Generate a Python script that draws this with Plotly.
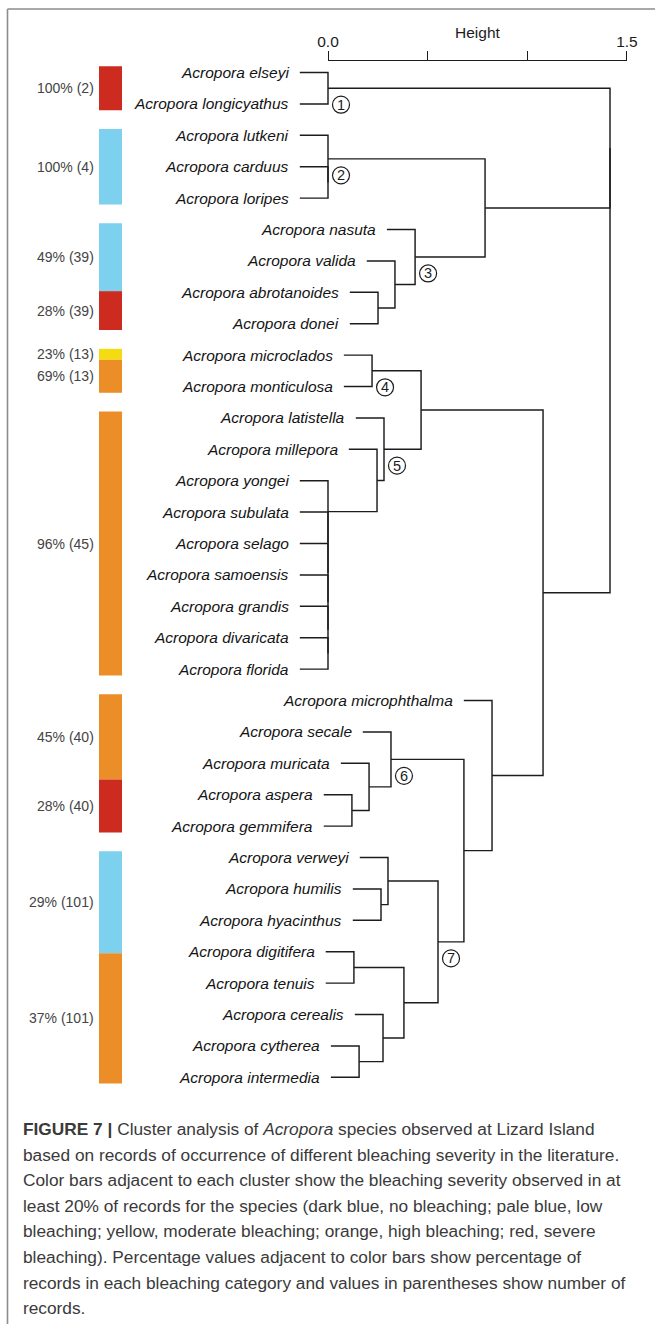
import plotly.graph_objects as go

# ---------------------------------------------------------------- data
leaves = [
    "Acropora elseyi", "Acropora longicyathus",
    "Acropora lutkeni", "Acropora carduus", "Acropora loripes",
    "Acropora nasuta", "Acropora valida", "Acropora abrotanoides", "Acropora donei",
    "Acropora microclados", "Acropora monticulosa",
    "Acropora latistella", "Acropora millepora", "Acropora yongei", "Acropora subulata",
    "Acropora selago", "Acropora samoensis", "Acropora grandis", "Acropora divaricata",
    "Acropora florida",
    "Acropora microphthalma", "Acropora secale", "Acropora muricata", "Acropora aspera",
    "Acropora gemmifera",
    "Acropora verweyi", "Acropora humilis", "Acropora hyacinthus",
    "Acropora digitifera", "Acropora tenuis", "Acropora cerealis", "Acropora cytherea",
    "Acropora intermedia",
]

# agglomeration steps (hclust style): "mK" refers to the K-th merge
merge_a = [
    "Acropora elseyi", "Acropora carduus", "Acropora lutkeni", "Acropora abrotanoides",
    "Acropora valida", "Acropora nasuta", "m2", "Acropora microclados",
    "Acropora divaricata", "Acropora grandis", "Acropora samoensis", "Acropora selago",
    "Acropora subulata", "Acropora yongei", "Acropora millepora", "Acropora latistella",
    "m7", "Acropora aspera", "Acropora muricata", "Acropora secale",
    "Acropora humilis", "Acropora verweyi", "Acropora digitifera", "Acropora cytherea",
    "Acropora cerealis", "m22", "m21", "m19",
    "Acropora microphthalma", "m16", "m0", "m30",
]
merge_b = [
    "Acropora longicyathus", "Acropora loripes", "m1", "Acropora donei",
    "m3", "m4", "m5", "Acropora monticulosa",
    "Acropora florida", "m8", "m9", "m10",
    "m11", "m12", "m13", "m14",
    "m15", "Acropora gemmifera", "m17", "m18",
    "Acropora hyacinthus", "m20", "Acropora tenuis", "Acropora intermedia",
    "m23", "m24", "m25", "m26",
    "m27", "m28", "m6", "m29",
]
merge_height = [
    0.0, 0.0, 0.0, 0.251,
    0.336, 0.437, 0.788, 0.221,
    0.0, 0.0, 0.0, 0.0,
    0.0, 0.0, 0.246, 0.281,
    0.467, 0.120, 0.206, 0.316,
    0.266, 0.301, 0.130, 0.156,
    0.276, 0.381, 0.552, 0.682,
    0.823, 1.079, 1.415, 1.415,
]

# numbered clusters and the merge each one marks
cluster_numbers = ["1", "2", "3", "4", "5", "6", "7"]
cluster_merges = ["m0", "m2", "m5", "m7", "m15", "m19", "m26"]

# bleaching colour bars: one block of leaves per bar
bar_first = ["Acropora elseyi", "Acropora lutkeni", "Acropora nasuta", "Acropora microclados",
             "Acropora latistella", "Acropora microphthalma", "Acropora verweyi"]
bar_last = ["Acropora longicyathus", "Acropora loripes", "Acropora donei", "Acropora monticulosa",
            "Acropora florida", "Acropora gemmifera", "Acropora intermedia"]
bar_records = [2, 4, 39, 13, 45, 40, 101]
bar_categories = [["severe"], ["low"], ["low", "severe"], ["moderate", "high"],
                  ["high"], ["high", "severe"], ["low", "high"]]
bar_percent = [[100], [100], [49, 28], [23, 69], [96], [45, 28], [29, 37]]

axis_ticks = [0.0, 0.5, 1.0, 1.5]
axis_tick_labels = ["0.0", "", "", "1.5"]
axis_title = "Height"

caption_lines = [
    "<b>FIGURE 7 |</b> Cluster analysis of <i>Acropora</i> species observed at Lizard Island",
    "based on records of occurrence of different bleaching severity in the literature.",
    "Color bars adjacent to each cluster show the bleaching severity observed in at",
    "least 20% of records for the species (dark blue, no bleaching; pale blue, low",
    "bleaching; yellow, moderate bleaching; orange, high bleaching; red, severe",
    "bleaching). Percentage values adjacent to color bars show percentage of",
    "records in each bleaching category and values in parentheses show number of",
    "records.",
]

# ---------------------------------------------------------------- styling / layout
W, H = 655, 1324
X0_PX = 328.0          # pixel column of height 0
X_PX_PER_UNIT = 199.3  # pixels per unit of height
ROW0_PX = 72.5         # pixel row of the first leaf
ROW_PX = 31.4          # pixels between leaves
AXIS_PX = 61           # pixel row of the height axis line

severity_colors = {
    "none": "#1F4E9C",
    "low": "#7DD0EE",
    "moderate": "#F5DC12",
    "high": "#EC8E27",
    "severe": "#CD2A20",
}
LINE_COLOR = "#1c1c1c"
FONT = "Liberation Sans, Arial, sans-serif"


def px_x(dx):
    return dx / X_PX_PER_UNIT


def px_y(dy):
    return dy / ROW_PX


# ---------------------------------------------------------------- dendrogram geometry
row = {name: i for i, name in enumerate(leaves)}
node_y = dict(row)
node_h = {}
leaf_start = {}
hang = 0.1 * max(merge_height)

line_x, line_y = [], []
for k, (a, b, h) in enumerate(zip(merge_a, merge_b, merge_height)):
    starts = []
    for c in (a, b):
        if c in node_h:
            starts.append(node_h[c])
        else:
            leaf_start[c] = h - hang
            starts.append(h - hang)
    line_x += [starts[0], h, h, starts[1], None]
    line_y += [node_y[a], node_y[a], node_y[b], node_y[b], None]
    node_y[f"m{k}"] = (node_y[a] + node_y[b]) / 2
    node_h[f"m{k}"] = h

fig = go.Figure()

# colour bars (vertical spans along the leaf rows)
bar_x_left, bar_x_right = px_x(99 - X0_PX), px_x(122 - X0_PX)
bar_pad = 0.2
annotations = []
for first, last, n, cats, pcts in zip(bar_first, bar_last, bar_records,
                                     bar_categories, bar_percent):
    top = row[first] - bar_pad
    span = row[last] + bar_pad - top
    total = sum(pcts)
    base = top
    for cat, p in zip(cats, pcts):
        length = span * p / total
        fig.add_trace(go.Bar(
            x=[(bar_x_left + bar_x_right) / 2], y=[length], base=[base],
            width=bar_x_right - bar_x_left,
            marker=dict(color=severity_colors[cat], line=dict(width=0)),
            hoverinfo="skip", showlegend=False,
        ))
        annotations.append(dict(
            x=bar_x_left, y=base + length / 2, xref="x", yref="y",
            text=f"{p}% ({n})", showarrow=False, xanchor="right", yanchor="middle",
            xshift=-3, font=dict(family=FONT, size=14, color="#444444"),
        ))
        base += length

# tree branches
fig.add_trace(go.Scatter(
    x=line_x, y=line_y, mode="lines",
    line=dict(color=LINE_COLOR, width=1.45),
    hoverinfo="skip", showlegend=False,
))

# leaf labels
for name in leaves:
    annotations.append(dict(
        x=leaf_start[name], y=row[name], xref="x", yref="y",
        text=f"<i>{name}</i>", showarrow=False, xanchor="right", yanchor="middle",
        xshift=-9, font=dict(family=FONT, size=15.5, color="#141414"),
    ))

# numbered cluster circles
circ_x = [node_h[m] + px_x(13) for m in cluster_merges]
circ_y = [node_y[m] + px_y(16.5) for m in cluster_merges]
fig.add_trace(go.Scatter(
    x=circ_x, y=circ_y, mode="markers",
    marker=dict(symbol="circle-open", size=17, color=LINE_COLOR,
                line=dict(width=1.2, color=LINE_COLOR)),
    hoverinfo="skip", showlegend=False,
))
for lab, cx, cy in zip(cluster_numbers, circ_x, circ_y):
    annotations.append(dict(
        x=cx, y=cy, xref="x", yref="y", text=lab, showarrow=False,
        xanchor="center", yanchor="middle",
        font=dict(family=FONT, size=14.5, color="#1c1c1c"),
    ))

# carrier for the height axis
fig.add_trace(go.Scatter(
    x=[0], y=[0], xaxis="x2", yaxis="y2", mode="markers",
    marker=dict(opacity=0), hoverinfo="skip", showlegend=False,
))

# height axis title, centred over the axis
annotations.append(dict(
    x=(axis_ticks[0] + axis_ticks[-1]) / 2, y=1 - 32 / H, xref="x2", yref="paper",
    text=axis_title, showarrow=False, xanchor="center", yanchor="middle",
    font=dict(family=FONT, size=15.5, color="#1c1c1c"),
))

# caption
for i, txt in enumerate(caption_lines):
    annotations.append(dict(
        x=21 / W, y=1 - (1129 + i * 25.6) / H, xref="paper", yref="paper",
        text=txt, showarrow=False, xanchor="left", yanchor="middle",
        font=dict(family=FONT, size=17.3, color="#3a3a3a"),
    ))

# frame
shapes = [
    dict(type="line", xref="paper", yref="paper", x0=7.5 / W, x1=7.5 / W, y0=0,
         y1=1 - 9 / H, line=dict(color="#8c8c8c", width=1.6)),
    dict(type="line", xref="paper", yref="paper", x0=7.5 / W, x1=1, y0=1 - 9 / H,
         y1=1 - 9 / H, line=dict(color="#8c8c8c", width=1.6)),
]

fig.update_layout(
    width=W, height=H,
    autosize=False,
    margin=dict(l=0, r=0, t=0, b=0, pad=0, autoexpand=False),
    paper_bgcolor="white", plot_bgcolor="rgba(0,0,0,0)",
    barmode="overlay",
    showlegend=False,
    xaxis=dict(range=[-X0_PX / X_PX_PER_UNIT, (W - X0_PX) / X_PX_PER_UNIT],
               visible=False, domain=[0, 1], automargin=False),
    yaxis=dict(range=[(H - ROW0_PX) / ROW_PX, -ROW0_PX / ROW_PX],
               visible=False, domain=[0, 1], automargin=False),
    xaxis2=dict(
        domain=[X0_PX / W, (X0_PX + 1.5 * X_PX_PER_UNIT) / W],
        range=[0, 1.5], anchor="y2", side="top", automargin=False,
        showline=True, linecolor=LINE_COLOR, linewidth=1.3,
        ticks="outside", ticklen=9, tickwidth=1.3, tickcolor=LINE_COLOR,
        tickvals=axis_ticks, ticktext=axis_tick_labels, ticklabelstandoff=-2,
        tickfont=dict(family=FONT, size=15.5, color="#1c1c1c"),
        showgrid=False, zeroline=False,
    ),
    yaxis2=dict(domain=[0.5, 1 - AXIS_PX / H], range=[0, 1], visible=False,
                automargin=False),
    annotations=annotations,
    shapes=shapes,
)

fig.write_html("out.html", config={"responsive": False})
